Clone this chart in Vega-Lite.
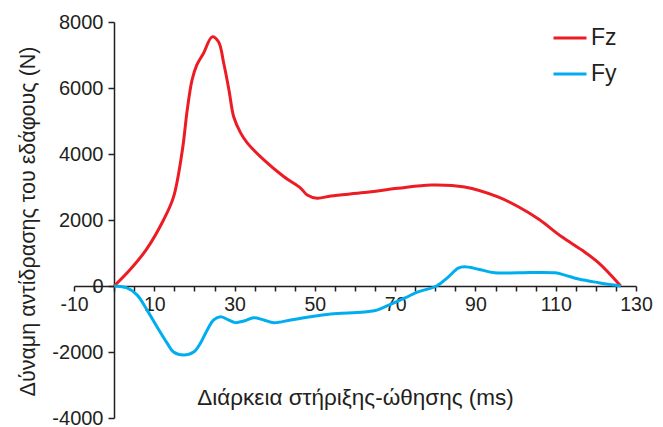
{
  "$schema": "https://vega.github.io/schema/vega-lite/v6.json",
  "width": 562,
  "height": 396,
  "autosize": {"type": "none"},
  "padding": {"left": 74, "top": 22, "right": 27, "bottom": 9},
  "background": "white",
  "config": {
    "view": {"stroke": null},
    "font": "Liberation Sans",
    "axis": {"grid": false, "domainColor": "#231f20", "tickColor": "#231f20", "labelColor": "#231f20", "titleColor": "#231f20", "domainWidth": 1.5, "tickWidth": 1.5, "labelFontSize": 19.5, "titleFontSize": 21.5, "titleFontWeight": "normal", "labelFont": "Liberation Sans", "titleFont": "Liberation Sans"}
  },
  "data": {
    "values": [
      {"t": 0, "f": 0, "s": "Fz"},
      {"t": 4, "f": 500, "s": "Fz"},
      {"t": 8, "f": 1100, "s": "Fz"},
      {"t": 12.3, "f": 2000, "s": "Fz"},
      {"t": 14.8, "f": 2700, "s": "Fz"},
      {"t": 17, "f": 4120, "s": "Fz"},
      {"t": 18.2, "f": 5330, "s": "Fz"},
      {"t": 19.4, "f": 6240, "s": "Fz"},
      {"t": 20.6, "f": 6700, "s": "Fz"},
      {"t": 22.3, "f": 7060, "s": "Fz"},
      {"t": 24.4, "f": 7550, "s": "Fz"},
      {"t": 26, "f": 7400, "s": "Fz"},
      {"t": 27.3, "f": 6750, "s": "Fz"},
      {"t": 28.6, "f": 5940, "s": "Fz"},
      {"t": 29.8, "f": 5120, "s": "Fz"},
      {"t": 31.5, "f": 4640, "s": "Fz"},
      {"t": 33.2, "f": 4330, "s": "Fz"},
      {"t": 37.3, "f": 3820, "s": "Fz"},
      {"t": 42.3, "f": 3310, "s": "Fz"},
      {"t": 46.5, "f": 2960, "s": "Fz"},
      {"t": 48.1, "f": 2760, "s": "Fz"},
      {"t": 50.6, "f": 2660, "s": "Fz"},
      {"t": 54, "f": 2730, "s": "Fz"},
      {"t": 62.3, "f": 2830, "s": "Fz"},
      {"t": 70.7, "f": 2960, "s": "Fz"},
      {"t": 79, "f": 3060, "s": "Fz"},
      {"t": 87.3, "f": 3000, "s": "Fz"},
      {"t": 95.6, "f": 2700, "s": "Fz"},
      {"t": 100.7, "f": 2400, "s": "Fz"},
      {"t": 105.8, "f": 2020, "s": "Fz"},
      {"t": 111.5, "f": 1490, "s": "Fz"},
      {"t": 116.5, "f": 1090, "s": "Fz"},
      {"t": 120.7, "f": 700, "s": "Fz"},
      {"t": 126.2, "f": 0, "s": "Fz"},
      {"t": 0, "f": 0, "s": "Fy"},
      {"t": 3.2, "f": -60, "s": "Fy"},
      {"t": 5.7, "f": -270, "s": "Fy"},
      {"t": 8.2, "f": -730, "s": "Fy"},
      {"t": 10.7, "f": -1240, "s": "Fy"},
      {"t": 13.2, "f": -1730, "s": "Fy"},
      {"t": 14.8, "f": -2000, "s": "Fy"},
      {"t": 17.3, "f": -2090, "s": "Fy"},
      {"t": 19.8, "f": -2000, "s": "Fy"},
      {"t": 21.5, "f": -1730, "s": "Fy"},
      {"t": 23.2, "f": -1330, "s": "Fy"},
      {"t": 24.8, "f": -1030, "s": "Fy"},
      {"t": 26.5, "f": -930, "s": "Fy"},
      {"t": 28.2, "f": -1010, "s": "Fy"},
      {"t": 30.2, "f": -1110, "s": "Fy"},
      {"t": 32.3, "f": -1060, "s": "Fy"},
      {"t": 34.8, "f": -960, "s": "Fy"},
      {"t": 37.3, "f": -1030, "s": "Fy"},
      {"t": 39.8, "f": -1110, "s": "Fy"},
      {"t": 44, "f": -1030, "s": "Fy"},
      {"t": 49, "f": -930, "s": "Fy"},
      {"t": 54, "f": -850, "s": "Fy"},
      {"t": 64.8, "f": -750, "s": "Fy"},
      {"t": 67.3, "f": -640, "s": "Fy"},
      {"t": 72.3, "f": -370, "s": "Fy"},
      {"t": 75.7, "f": -180, "s": "Fy"},
      {"t": 80.3, "f": 0, "s": "Fy"},
      {"t": 83.2, "f": 270, "s": "Fy"},
      {"t": 85.7, "f": 540, "s": "Fy"},
      {"t": 87.3, "f": 580, "s": "Fy"},
      {"t": 90.7, "f": 510, "s": "Fy"},
      {"t": 94.8, "f": 400, "s": "Fy"},
      {"t": 100.7, "f": 400, "s": "Fy"},
      {"t": 109.8, "f": 400, "s": "Fy"},
      {"t": 112.3, "f": 330, "s": "Fy"},
      {"t": 115.7, "f": 210, "s": "Fy"},
      {"t": 120.7, "f": 100, "s": "Fy"},
      {"t": 126.2, "f": 0, "s": "Fy"}
    ]
  },
  "mark": {"type": "line", "interpolate": "catmull-rom", "strokeWidth": 3},
  "encoding": {
    "x": {
      "field": "t", "type": "quantitative",
      "scale": {"domain": [-10, 130], "nice": false, "zero": false},
      "axis": {
        "title": "Διάρκεια στήριξης-ώθησης (ms)",
        "titleFontSize": 22.5,
        "offset": -132,
        "values": [-10, -5, 0, 5, 10, 15, 20, 25, 30, 35, 40, 45, 50, 55, 60, 65, 70, 75, 80, 85, 90, 95, 100, 105, 110, 115, 120, 125, 130],
        "labelExpr": "(datum.value + 10) % 20 == 0 ? replace(datum.label, '−', '-') : ''",
        "tickSize": 5,
        "labelPadding": 4,
        "labelFlush": false,
        "labelOverlap": false,
        "titleY": 111,
        "titleBaseline": "middle"
      }
    },
    "y": {
      "field": "f", "type": "quantitative",
      "scale": {"domain": [-4000, 8000], "nice": false, "zero": false},
      "axis": {
        "title": "Δύναμη αντίδρασης του εδάφους (N)",
        "offset": -40,
        "values": [-4000, -2000, 0, 2000, 4000, 6000, 8000],
        "format": "d",
        "labelExpr": "replace(datum.label, '−', '-')",
        "labelFontSize": 20,
        "tickSize": 6,
        "labelPadding": 5,
        "titleX": -86,
        "titleY": 199,
        "titleBaseline": "middle",
        "titleAlign": "center"
      }
    },
    "color": {
      "field": "s", "type": "nominal",
      "scale": {"domain": ["Fz", "Fy"], "range": ["#ed1c24", "#00aeef"]},
      "legend": {
        "title": null,
        "orient": "none",
        "legendX": 478,
        "legendY": -2,
        "padding": 0,
        "symbolType": "stroke",
        "symbolSize": 1089,
        "symbolStrokeWidth": 3,
        "labelFontSize": 23,
        "labelColor": "#231f20",
        "labelOffset": 3,
        "rowPadding": 6
      }
    }
  }
}
